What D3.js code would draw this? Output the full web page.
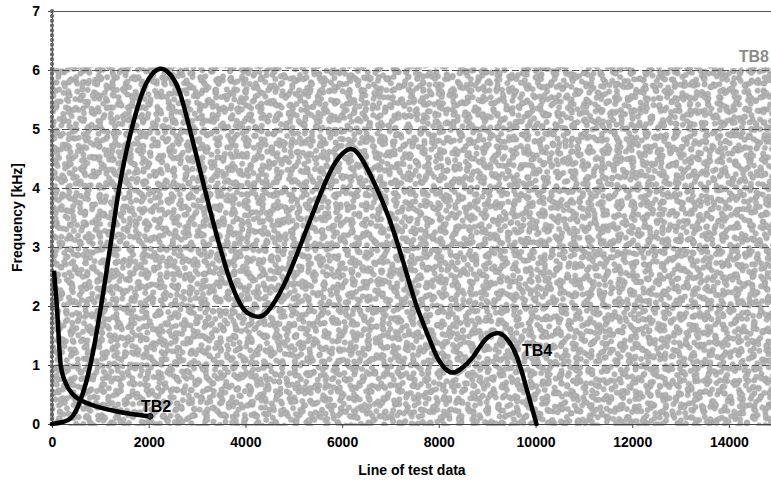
<!DOCTYPE html>
<html>
<head>
<meta charset="utf-8">
<script src="https://cdn.jsdelivr.net/npm/d3@7"></script>
<style>
  html, body { margin: 0; padding: 0; background: #fff; }
  svg text { font-family: "Liberation Sans", Arial, sans-serif; font-weight: bold; }
</style>
</head>
<body>
<div id="chart-container"></div>
<script>
// Data
const tb2X = [100, 180, 280, 435, 650, 950, 1300, 1650, 2030];
const tb2Y = [2.0, 1.0, 0.7, 0.5, 0.38, 0.29, 0.22, 0.17, 0.13];
const tb2ColumnY = [0, 7];  // column of markers drawn along x = 0

const tb4X = [0, 200, 435, 650, 855, 1130, 1340, 1545, 1800, 2000, 2230, 2450, 2650, 2854, 3060, 3267, 3474, 3681, 3888, 4050, 4233, 4450, 4780, 5100, 5475, 5800, 6095, 6400, 6850, 7100, 7335, 7540, 7815, 8000, 8230, 8450, 8710, 8950, 9195, 9400, 9610, 9815, 10020];
const tb4Y = [0, 0.03, 0.14, 0.55, 1.25, 2.6, 3.75, 4.65, 5.45, 5.85, 6.02, 5.92, 5.6, 4.98, 4.31, 3.63, 3.0, 2.44, 2.04, 1.88, 1.82, 1.9, 2.33, 2.95, 3.74, 4.35, 4.64, 4.5, 3.74, 3.18, 2.55, 2.0, 1.42, 1.08, 0.88, 0.93, 1.14, 1.42, 1.54, 1.45, 1.15, 0.6, 0];

// TB8 is a dense cloud filling this band
const tb8XRange = [0, 14870];
const tb8YRange = [0, 6];

const xTicks = [0, 2000, 4000, 6000, 8000, 10000, 12000, 14000];
const yTicks = [0, 1, 2, 3, 4, 5, 6, 7];

// Setup
const width = 771, height = 482;
const margin = { top: 11, right: 0, bottom: 58, left: 52 };

const svg = d3.select("#chart-container").append("svg")
  .attr("width", width)
  .attr("height", height);

const x = d3.scaleLinear().domain([0, 14870]).range([margin.left, width - margin.right]);
const y = d3.scaleLinear().domain([0, 7]).range([height - margin.bottom, margin.top]);

// Dot texture for TB8: several rotated lattices overlaid
const defs = svg.append("defs");
const lattices = [
  { w: 13.1, h: 14.3, rot: 11 },
  { w: 14.6, h: 12.7, rot: 37 },
  { w: 13.7, h: 13.9, rot: 64 },
  { w: 12.9, h: 14.8, rot: 89 },
  { w: 14.9, h: 13.3, rot: 118 },
  { w: 13.4, h: 12.6, rot: 143 },
  { w: 12.5, h: 15.2, rot: 167 }
];
lattices.forEach((l, i) => {
  const p = defs.append("pattern")
    .attr("id", "dots" + i)
    .attr("patternUnits", "userSpaceOnUse")
    .attr("width", l.w)
    .attr("height", l.h)
    .attr("patternTransform", `rotate(${l.rot})`);
  p.append("circle")
    .attr("cx", l.w / 2).attr("cy", l.h / 2).attr("r", 2.6)
    .attr("fill", "#b4b4b4")
    .attr("stroke", "#979797")
    .attr("stroke-width", 0.6);
});

const band = {
  x0: x(tb8XRange[0]) - 2, x1: x(tb8XRange[1]),
  y0: y(tb8YRange[1]) - 2.5, y1: y(tb8YRange[0]) + 2
};
lattices.forEach((l, i) => {
  svg.append("rect")
    .attr("x", band.x0).attr("y", band.y0)
    .attr("width", band.x1 - band.x0)
    .attr("height", band.y1 - band.y0)
    .attr("fill", `url(#dots${i})`);
});

// Gridlines
svg.append("g").selectAll("line")
  .data(yTicks.filter(d => d > 0))
  .join("line")
  .attr("x1", x(0)).attr("x2", width)
  .attr("y1", d => y(d)).attr("y2", d => y(d))
  .attr("stroke", "#555")
  .attr("stroke-width", 1)
  .attr("stroke-dasharray", d => d === 7 ? null : "7,3")
  .attr("shape-rendering", "crispEdges");

// Axes
const xAxis = svg.append("g")
  .attr("transform", `translate(0,${y(0)})`)
  .call(d3.axisBottom(x).tickValues(xTicks).tickFormat(d3.format("d"))
    .tickSize(4).tickSizeOuter(0).tickPadding(9));
const yAxis = svg.append("g")
  .attr("transform", `translate(${x(0)},0)`)
  .call(d3.axisLeft(y).tickValues(yTicks).tickFormat(d3.format("d"))
    .tickSize(4).tickSizeOuter(0).tickPadding(8));
[xAxis, yAxis].forEach(a => {
  a.attr("font-size", 14).attr("font-family", "'Liberation Sans', Arial, sans-serif");
  a.select(".domain").attr("stroke", "#444");
  a.selectAll(".tick line").attr("stroke", "#444");
  a.selectAll("text").attr("fill", "#000").style("font-size", "14px");
});

// TB2 marker column along x = 0
svg.append("line")
  .attr("x1", x(0)).attr("x2", x(0))
  .attr("y1", y(tb2ColumnY[0])).attr("y2", y(tb2ColumnY[1]))
  .attr("stroke", "#666")
  .attr("stroke-width", 4.2)
  .attr("stroke-linecap", "round")
  .attr("stroke-dasharray", "0,4.8");

// TB2 curve
const tb2 = tb2X.map((d, i) => [d, tb2Y[i]]);
svg.append("path")
  .datum([[x.invert(x(0) + 2), 2.6], ...tb2])
  .attr("fill", "none")
  .attr("stroke", "#000")
  .attr("stroke-width", 4.5)
  .attr("stroke-linejoin", "round")
  .attr("d", d3.line().x(d => x(d[0])).y(d => y(d[1])).curve(d3.curveMonotoneX));

svg.append("circle")
  .attr("cx", x(tb2X[tb2X.length - 1])).attr("cy", y(tb2Y[tb2Y.length - 1]))
  .attr("r", 2.8).attr("fill", "#333").attr("stroke", "#000");

// TB4 curve
const tb4 = tb4X.map((d, i) => [d, tb4Y[i]]);
svg.append("path")
  .datum(tb4)
  .attr("fill", "none")
  .attr("stroke", "#000")
  .attr("stroke-width", 4.5)
  .attr("stroke-linejoin", "round")
  .attr("stroke-linecap", "round")
  .attr("d", d3.line().x(d => x(d[0])).y(d => y(d[1])).curve(d3.curveNatural));

// Series labels
svg.append("text").attr("x", 141).attr("y", 412).style("font-size", "16px").text("TB2");
svg.append("text").attr("x", 522).attr("y", 356).style("font-size", "16px").text("TB4");
svg.append("text").attr("x", 769).attr("y", 62).attr("text-anchor", "end")
  .attr("fill", "#8c8c8c").style("font-size", "16px").text("TB8");

// Axis titles
svg.append("text")
  .attr("x", 412).attr("y", 475)
  .attr("text-anchor", "middle")
  .style("font-size", "14px")
  .text("Line of test data");
svg.append("text")
  .attr("transform", `translate(22,${(y(0) + y(7)) / 2}) rotate(-90)`)
  .attr("text-anchor", "middle")
  .style("font-size", "14px")
  .text("Frequency [kHz]");
</script>
</body>
</html>
